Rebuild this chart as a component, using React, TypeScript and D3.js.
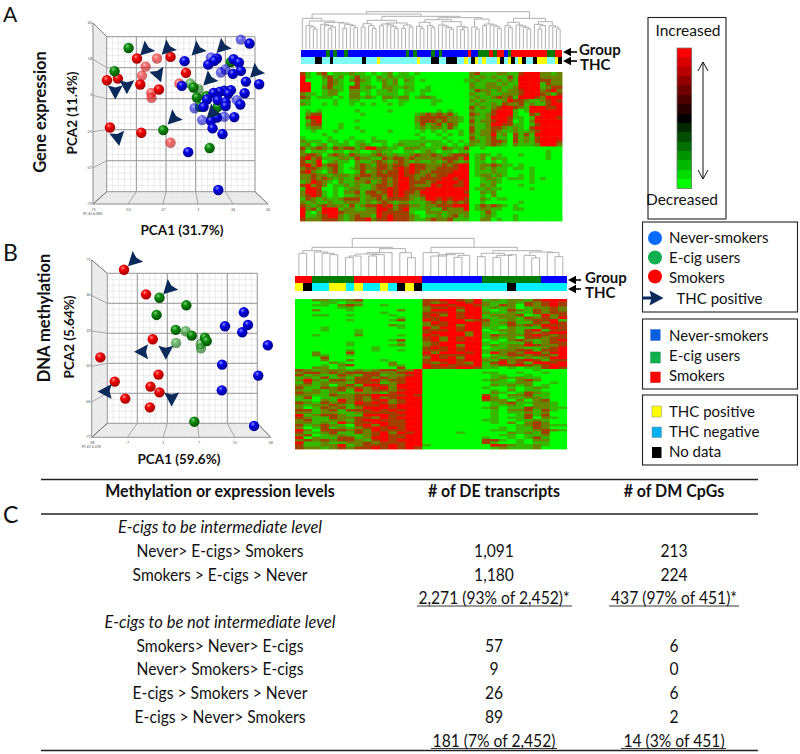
import React from "react";
import * as d3 from "d3";

const FONT = "Lato, Carlito, sans-serif";
const NAVY = "#0b2a5c";

// ---------- PCA values: [PCA1, PCA2, faded?]
const pcaARed = [[-43.6,18.4],[-29.3,18.4,1],[-19.6,19.4],[-37.4,13.5,1],[-40,8,1],[-65,5.2],[-57.2,6.2],[-41.2,2.6],[-27.9,-0.4],[-33.4,-2.5,1],[-33.2,-5.5,1],[-8.6,9.7],[-13.4,3.2,1],[-62.9,-23.5],[-40.5,-26.7],[-19.6,-32.8,1]];
const pcaAGreen = [[-49.6,24.8],[-59.6,10.7],[23.5,16.3],[-5.5,3.2,1],[0.4,-0.2,1],[-3.2,0.8],[-0.8,-5.3],[5.9,-4.5],[1.6,-11],[14,-11],[-24.8,-25.1],[8.3,-36]];
const pcaABlue = [[30.6,29.9,1],[36.8,27.5],[-9.6,16.8],[9.2,19,1],[13.5,18.4],[11.6,17],[7.3,14.7],[25.4,18],[29.2,16],[30.6,10.9],[24.9,9.1],[19.5,11.7,1],[16.4,9.9,1],[34.2,4.4],[43.7,2.8],[-11.5,1.8],[33.3,-2.7],[23.5,-0.8],[18.7,-1.2],[15.4,-1.9],[11.1,-2.5],[21.6,-2.9],[6.4,-6.5],[14,-6.9],[19.7,-8.1],[4,-11],[27.8,-6.9,1],[30.2,-9.5],[19.7,-10.5],[-2.4,-11.8,1],[13.5,-17.4],[18.7,-17,1],[25.9,-17.2],[3,-19,1],[9.2,-19.4],[10.4,-24],[17.5,-27.5],[-7,-38.5],[14.5,-61.5]];
const pcaAThc = [[-37.6,23.4,135],[-22.2,24,135],[-0.8,23.4,135],[17,25,135],[-28.2,8.2,70],[-59.1,-1.9,90],[-50.8,1.2,90],[7.5,5.2,135],[40.9,9.9,135],[9.9,-15,135],[-17.9,-18.4,135],[-57.2,-30.2,80]];

const pcaBRed = [[-17.9,63.2],[-11,43.5],[-8.9,7.5],[-25.3,-7],[-7.1,-20.8],[-20.8,-26.4],[-9.6,-30.4],[-6.8,-35],[-17.5,-40],[-9.8,-47]];
const pcaBGreen = [[-6.8,40.8],[1.6,34.7],[-7.7,27],[1.4,13.9,1],[-1.7,15],[3.3,10.4],[-1.6,4.5,1],[6.1,3.7,1],[6.2,0.3,1],[7.4,8.8],[8,6.1],[4.1,-58.5]];
const pcaBBlue = [[19.6,29.1],[13.7,17.9],[20.9,19],[19.1,13.1],[27.1,2.7],[12.8,-12.8],[24.1,-21.6],[12.7,-33.4],[22.8,-61.9]];
const pcaBThc = [[-15,70.2,135],[-4,47.8,135],[-12.4,-2.4,180],[-4.8,-2.9,90],[-23.8,-34.4,180],[-3,-40.3,90]];

const aYTicks = ["40","18","-3","-25","-47","-70"];
const aXTicks = ["-75","-53","-27","-1","24","50"];
const bYTicks = ["71","46","22","-22","-46","-71"];
const bXTicks = ["-28","-7","1","7","15","28"];

// ---------- annotation bars, run lengths [colour key, samples]
const groupA: [string, number][] = [["b",7],["g",1],["b",1],["g",1],["b",2],["g",1],["b",16],["g",1],["b",1],["g",1],["b",4],["g",1],["b",1],["g",1],["b",7],["r",1],["b",2],["g",3],["r",1],["g",1],["r",2],["b",1],["g",1],["r",10],["g",2],["r",2]];
const thcA: [string, number][] = [["n",4],["k",2],["n",2],["k",1],["n",8],["k",1],["n",3],["y",1],["n",10],["y",1],["n",3],["k",2],["n",2],["k",3],["n",2],["y",1],["n",1],["k",1],["y",1],["n",1],["y",1],["n",3],["y",1],["k",1],["n",1],["y",1],["k",1],["n",1],["y",1],["k",1],["n",2],["k",1],["y",3],["n",2],["y",1],["k",1]];
const groupB: [string, number][] = [["r",2],["g",5],["r",8],["b",7],["g",7],["b",3]];
const thcB: [string, number][] = [["y",1],["k",1],["n",2],["y",2],["n",1],["y",1],["n",2],["y",1],["n",1],["k",1],["y",1],["k",1],["n",10],["k",1],["n",6]];

// ---------- heat maps, expression level 0 (green) .. 4 (red)
const heatA = [
"310230111211010120110100000000023111221134442212",
"410023120131102121111000000000021212113144442222",
"400013210232101212021010000000112111212144443322",
"440013210031100212011000000000021122121144441322",
"440023110331210221121001000000021122211244441233",
"440012210221101121011011000000013221212234442342",
"211012200220101111010010000000021121122234443213",
"320111010221210221220122100000012112323144432444",
"110000100110000100110000110000021211124332112343",
"210010100101010010100000100000012112132231211344",
"000000000000000000000000000000031212344321444334",
"010100000010000010000000010100021113444101444444",
"023300000001000000000123232310032123444100324444",
"034400000000000000000233333221021124443110144443",
"013400000010000000000233323221031223443010244444",
"023300010000000000000131231320021124433110134444",
"012200010010000000000121221310031123321210344444",
"001000100001000010000010101001031223211211234444",
"000010000000000000000100010101021224120313144444",
"100001000100010000000010001000031123110312134444",
"211101101011011100111111110101022123320312134443",
"120120111012100101211120111010121123210211124442",
"312321323312442211022211113211300100000000000000",
"201110110110012110011012101101100000000000000100",
"233202321321123212112322321233301210100010000100",
"342311122132211323323222223332401202110000000100",
"312401211021123212321211212321201101010000000000",
"342423310023213323324332223234401223211010000000",
"233212310123223323434332233334401212110110100000",
"342102310013123233434322333344401112110000100000",
"223221222123323333433223233444401221210010100000",
"223232121132222323443233334434400122101110101000",
"124321021122312323443332344443400112100000100000",
"342320112121123323443222434433400212000010000000",
"144300101221123343443334444444401121100000100000",
"244310102231332343433244444444300212000000000000",
"234310101121233243432234444444400102000000000000",
"132121123331223233332124434344300210110000000000",
"212112112221212321221112323232300100000010000000",
"321232221312334342332212233344401323210100000000",
"423144412211224432341112113222401221100110000000",
"410244432222224333331002221222200131000000000000",
"411234421232214343332101121231200121000100000000",
"322233321233423343332112322311100220100100000000",
];
const heatB = [
"00221123000000033443241212213444","00011011000000032344342112132343","00110232001000034434432132032343","00000110000000023343441212012232",
"00200010000020024442441013213232","00000000001000033343442112113233","00110010000100034243441222301423","00000000000010033443441122132324",
"00000010000130043444233112123341","00000000000000024344442123113243","00000000000210023342442113232433","00010000000010042443441102111343",
"00010001000000033343440122134133","00000001000000034444241012132344","00100002000010043444241322234323","00000000000000034243441212033233",
"00000000000130034243440102321234","00000010000010023444441011131233","00000010000120023442441212243223","00000000010000034343440112211234",
"00000010010010033343441122331334","00200030000000042444341423244244","00210010000000034333440123323324","00030000000000024342441212121244",
"00020020001000034443442132343133","00002100000200032343241342314434","00010230000210043433341233432344","00220100000030043334431101011343",
"32122212123322400000000000001000","23323233332234400000001100100100","31211321331223400000000110010000","12131213323234400000000121211000",
"24213323342334400000001210232000","13122213331234400000000111220010","22120231443244400000000212120100","31132323234244400000001001012100",
"21212314233234400000000102011000","32212112221344400000000210132100","22113223344334300000003102231100","13011223242344400000004201122100",
"11021423234234400000003220202300","32132324343234400000000123112210","21223213334344400000000112102210","20132312444344400000001201132211",
"33123133343434400000000102231310","22122112333344400000000101121200","41233211444334400000000100131300","32113223324344400000000101130210",
"23112213443334400000001100112100","22121423344334400000000102023200","31232103424334400000000000123211","20131212343434400000000010113200",
"42033323243334400000000110112321","31123113234243400001000002121300","23012211234334400000000011011200","40211331244334400000001001013100",
"23232332134344400000003310102200","41121122323334400000003100101100","31122412333434410000000432112100","32212323343434300000000121112000",
];
const levelColors = ["#00ff00","#35b800","#6a8200","#a33c00","#ff0000"];

// ---------- colour key
const keyLevels = [1,0.86,0.72,0.58,0.44,0.3,0.16,0,-0.16,-0.3,-0.44,-0.58,-0.72,-0.86,-1];

// ---------- dendrograms: [merge height, left, right], null = one sample
type T = null | [number, T, T];
const L: T = null;
const c3a: T = [66,L,[60,L,L]];
const c3b: T = [70,L,[64,L,L]];
const c4a: T = [70,L,[66,L,[60,L,L]]];
const c4b: T = [72,[62,L,L],[66,L,L]];
const c4c: T = [68,L,[64,[58,L,L],L]];
const c4d: T = [74,L,[70,[60,L,L],L]];
const c5a: T = [74,L,[70,L,[66,[60,L,L],L]]];
const c5b: T = [76,[66,L,L],[70,L,[62,L,L]]];
const c5c: T = [72,L,[69,L,[65,L,[60,L,L]]]];
const c6a: T = [78,L,[74,[62,L,L],[70,L,[64,L,L]]]];
const c6b: T = [75,[70,L,L],[72,L,[68,L,[62,L,L]]]];
const c6c: T = [80,[68,L,[62,L,L]],[70,L,[64,L,L]]];
const treeA: T = [112,
  [105,
    [92,L,[84,c4a,[80,c5a,c6a]]],
    [98,[86,c5b,[78,c6b,c4b]],[94,[88,c6c,[82,c5c,c4c]],[90,c3a,c6b]]]],
  [92,[80,c3b,c5c],[82,c4d,c4a]]];
const treeB: T = [113,
  [86,
    [76,[68,L,L],[72,L,[68,L,[64,L,L]]]],
    [82,[70,[66,[60,[56,L,L],L],[64,[60,L,L],L]],L],[70,L,[55,L,L]]]],
  [86,
    [70,L,[60,L,[64,L,[68,L,[62,[56,L,L],L]]]]],
    [76,[68,[58,L,L],[62,[56,L,L],[64,L,L]]],[72,[62,L,[54,L,L]],[70,L,[58,L,L]]]]]];

// ---------- text
const tableHead = ["Methylation or expression levels","# of DE transcripts","# of DM CpGs"];
const tableRows: [string,string,string,number?][] = [
  ["E-cigs to be intermediate level","","",1],
  ["Never> E-cigs> Smokers","1,091","213"],
  ["Smokers > E-cigs > Never","1,180","224"],
  ["","2,271 (93% of 2,452)*","437 (97% of 451)*"],
  ["E-cigs to be not intermediate level","","",1],
  ["Smokers> Never> E-cigs","57","6"],
  ["Never> Smokers> E-cigs","9","0"],
  ["E-cigs > Smokers > Never","26","6"],
  ["E-cigs > Never> Smokers","89","2"],
  ["","181 (7% of 2,452)","14 (3% of 451)"],
];
const rowBaselines = [533,557,581,604,628,652,675,699,723,747];
const underlines: [number,number,number][] = [[417,572,606],[609,739,606],[431,557,748.5],[621,726,748.5]];

const barColors: Record<string,string> = { b:"#0000ff", g:"#007c00", r:"#ff0000", y:"#ffff00", k:"#000000" };
const ARROW = "M7.5 0L-6.5 -7.5L-4.5 0L-6.5 7.5Z";

function Pca({ front, back, red, green, blue, thc, xDomain, yDomain, xTicks, yTicks, pcLabel }: any) {
  const x = d3.scaleLinear().domain(xDomain).range([front[0], front[1]]);
  const y = d3.scaleLinear().domain(yDomain).range([front[3], front[2]]);
  const P = (u: number, v: number, d: number): [number, number] => {
    const fx = front[0] + u * (front[1] - front[0]), bx = back[0] + u * (back[1] - back[0]);
    const fy = front[3] + v * (front[2] - front[3]), by = back[3] + v * (back[2] - back[3]);
    return [fx + d * (bx - fx), fy + d * (by - fy)];
  };
  const seg = (a: [number, number], b: [number, number], key: string, c: string, w = 0.7) => (
    <line key={key} x1={a[0]} y1={a[1]} x2={b[0]} y2={b[1]} stroke={c} strokeWidth={w} />
  );
  const minor = d3.range(0, 26).map((i) => i / 25);
  const major = d3.range(0, 6).map((i) => i / 5);
  const lines: any[] = [];
  minor.forEach((t, i) => {
    lines.push(seg(P(t,0,1),P(t,1,1),"mv"+i,"#e2e2e2"));
    lines.push(seg(P(0,t,1),P(1,t,1),"mh"+i,"#e2e2e2"));
    lines.push(seg(P(0,t,0),P(0,t,1),"ml"+i,"#e8e8e8"));
    lines.push(seg(P(t,0,0),P(t,0,1),"mf"+i,"#e8e8e8"));
    lines.push(seg(P(0,0,t),P(1,0,t),"mg"+i,"#e8e8e8"));
    lines.push(seg(P(0,0,t),P(0,1,t),"mw"+i,"#e8e8e8"));
  });
  major.forEach((t, i) => {
    lines.push(seg(P(t,0,1),P(t,1,1),"Mv"+i,"#999",1));
    lines.push(seg(P(0,t,1),P(1,t,1),"Mh"+i,"#999",1));
    lines.push(seg(P(0,t,0),P(0,t,1),"Ml"+i,"#a0a0a0",0.9));
    lines.push(seg(P(t,0,0),P(t,0,1),"Mf"+i,"#a0a0a0",0.9));
  });
  [0,1].forEach((v) => lines.push(seg(P(0,v,0),P(0,v,1),"e"+v,"#777",0.8)));
  lines.push(seg(P(1,0,0),P(1,0,1),"e2","#777",0.8));
  lines.push(seg(P(0,0,0),P(0,1,0),"e3","#777",0.8));
  lines.push(seg(P(0,0,0),P(1,0,0),"e4","#777",0.8));
  const ball = (pts: any[], grad: string) =>
    pts.map((p, i) => (
      <circle key={grad + i} cx={x(p[0])} cy={y(p[1])} r={5.2} fill={`url(#${grad})`} opacity={p[2] ? 0.58 : 1} />
    ));
  return (
    <g>
      <g>{lines}</g>
      {yTicks.map((t: string, i: number) => (
        <text key={t + i} x={front[0] - 1} y={front[2] + (i * (front[3] - front[2])) / 5 + 1} textAnchor="end" fontSize={3.6} fill="#555" fontFamily={FONT}>{t}</text>
      ))}
      {xTicks.map((t: string, i: number) => (
        <text key={t + i} x={front[0] + (i * (front[1] - front[0])) / 5} y={front[3] + 7} textAnchor="middle" fontSize={3.6} fill="#555" fontFamily={FONT}>{t}</text>
      ))}
      <text x={front[0] - 10} y={front[3] + 11} fontSize={3.4} fill="#555" fontFamily={FONT}>{pcLabel}</text>
      {ball(red, "sphR")}
      {ball(green, "sphG")}
      {ball(blue, "sphB")}
      {thc.map((p: number[], i: number) => (
        <path key={i} d={ARROW} fill={NAVY} transform={`translate(${x(p[0])},${y(p[1])}) rotate(${p[2]})`} />
      ))}
    </g>
  );
}

function Bar({ runs, x0, x1, y0, y1 }: any) {
  const total = d3.sum(runs, (r: any) => r[1]) as number;
  const x = d3.scaleLinear().domain([0, total]).range([x0, x1]);
  let acc = 0;
  return (
    <g shapeRendering="crispEdges">
      {runs.map((r: any, i: number) => {
        const a = acc;
        acc += r[1];
        return <rect key={i} x={x(a)} width={x(acc) - x(a)} y={y0} height={y1 - y0} fill={r[0] === "n" ? (x0 < 296 ? "#00f0ff" : "#7ffcff") : barColors[r[0]]} />;
      })}
    </g>
  );
}

function Heat({ rows, x0, x1, y0, y1 }: any) {
  const nCol = rows[0].length;
  const x = d3.scaleBand<number>().domain(d3.range(nCol)).range([x0, x1]);
  const y = d3.scaleBand<number>().domain(d3.range(rows.length)).range([y0, y1]);
  const c = d3.scaleOrdinal<number, string>().domain(d3.range(5)).range(levelColors);
  return (
    <g filter="url(#soft)">
      <rect x={x0} y={y0} width={x1 - x0} height={y1 - y0} fill="#00ff00" />
      {rows.map((r: string, j: number) =>
        r.split("").map((v, i) => (
          <rect key={j + "-" + i} x={x(i)} y={y(j)} width={x.bandwidth() + 0.4} height={y.bandwidth() + 0.4} fill={c(+v)} />
        ))
      )}
    </g>
  );
}

function Dendro({ tree, x0, x1, base, px }: any) {
  const n = (function count(t: T): number { return t === null ? 1 : count(t[1]) + count(t[2]); })(tree);
  const x = d3.scaleLinear().domain([0, n]).range([x0, x1]);
  const y = d3.scaleLinear().domain([0, 120]).range([base, base - px]);
  let leaf = 0;
  const p = d3.path();
  const walk = (t: T): { cx: number; h: number } => {
    if (t === null) return { cx: x(leaf++ + 0.5), h: 0 };
    const a = walk(t[1]);
    const b = walk(t[2]);
    p.moveTo(a.cx, y(a.h));
    p.lineTo(a.cx, y(t[0]));
    p.lineTo(b.cx, y(t[0]));
    p.lineTo(b.cx, y(b.h));
    return { cx: (a.cx + b.cx) / 2, h: t[0] };
  };
  walk(tree);
  return <path d={p.toString()} fill="none" stroke="#a8a8a8" strokeWidth={0.9} />;
}

function Left({ x0, x1, y }: any) {
  return (
    <g stroke="#000" fill="#000">
      <line x1={x0} y1={y} x2={x1 + 4} y2={y} strokeWidth={1.6} />
      <path d={`M${x1} ${y}L${x1 + 8} ${y - 4.2}L${x1 + 8} ${y + 4.2}Z`} stroke="none" />
    </g>
  );
}

const T_ = (p: any) => <text fontFamily={FONT} fill="#111" {...p} />;
const Cond = ({ x, y, sx, ...p }: any) => (
  <T_ transform={`translate(${x},${y}) scale(${sx},1)`} textAnchor="middle" fontSize={17} {...p} />
);

export default function App() {
  const key = d3.scaleBand<number>().domain(d3.range(keyLevels.length)).range([48, 188.5]);
  const keyColor = (v: number) => (v >= 0 ? d3.rgb(255 * v, 0, 0) : d3.rgb(0, -255 * v, 0)).toString();
  return (
    <svg width={800} height={754} style={{ position: "absolute", left: 0, top: 0, display: "block" }}>
      <defs>
        <radialGradient id="sphR" cx="0.38" cy="0.32" r="0.7"><stop offset="0" stopColor="#ff8a8a" /><stop offset="0.35" stopColor="#f00000" /><stop offset="1" stopColor="#a00000" /></radialGradient>
        <radialGradient id="sphG" cx="0.38" cy="0.32" r="0.7"><stop offset="0" stopColor="#7fd07f" /><stop offset="0.35" stopColor="#0a8a0a" /><stop offset="1" stopColor="#034f03" /></radialGradient>
        <radialGradient id="sphB" cx="0.38" cy="0.32" r="0.7"><stop offset="0" stopColor="#8a8aff" /><stop offset="0.35" stopColor="#0000e6" /><stop offset="1" stopColor="#00008a" /></radialGradient>
        <filter id="soft" x="-2%" y="-2%" width="104%" height="104%"><feGaussianBlur stdDeviation="0.35" /></filter>
      </defs>
      <rect width={800} height={754} fill="#fff" />

      {/* panel letters */}
      <T_ x={3} y={22} fontSize={21}>A</T_>
      <T_ x={3} y={261} fontSize={23}>B</T_>
      <T_ x={3} y={523} fontSize={23}>C</T_>

      {/* PCA plots */}
      <Pca front={[93,268,23,204]} back={[106.7,255,36.7,191.7]} red={pcaARed} green={pcaAGreen} blue={pcaABlue} thc={pcaAThc}
        xDomain={[-75,50]} yDomain={[-70,40]} xTicks={aXTicks} yTicks={aYTicks} pcLabel="PC #3 6.08%" />
      <Pca front={[91.7,270.7,260,437.3]} back={[107.3,257.3,273.3,423.3]} red={pcaBRed} green={pcaBGreen} blue={pcaBBlue} thc={pcaBThc}
        xDomain={[-28,28]} yDomain={[-71,71]} xTicks={bXTicks} yTicks={bYTicks} pcLabel="PC #3 4.33%" />

      <T_ transform="translate(46,112) rotate(-90)" textAnchor="middle" fontSize={16.5} fontWeight={700}>Gene expression</T_>
      <T_ transform="translate(77,113) rotate(-90)" textAnchor="middle" fontSize={13.5} fontWeight={700}>PCA2 (11.4%)</T_>
      <T_ x={182} y={235} textAnchor="middle" fontSize={13.5} fontWeight={700}>PCA1 (31.7%)</T_>
      <T_ transform="translate(50,318) rotate(-90)" textAnchor="middle" fontSize={16.5} fontWeight={700}>DNA methylation</T_>
      <T_ transform="translate(74,337) rotate(-90)" textAnchor="middle" fontSize={13.5} fontWeight={700}>PCA2 (5.64%)</T_>
      <T_ x={179} y={464} textAnchor="middle" fontSize={13.5} fontWeight={700}>PCA1 (59.6%)</T_>

      {/* heat map A */}
      <Dendro tree={treeA} x0={300.5} x1={562} base={49} px={40} />
      <Bar runs={groupA} x0={300.5} x1={562} y0={49.5} y1={57} />
      <Bar runs={thcA} x0={300.5} x1={562} y0={57} y1={64} />
      <Heat rows={heatA} x0={300} x1={562} y0={72} y1={221} />
      <Left x0={577} x1={563} y={52} />
      <Left x0={577} x1={563} y={61} />
      <T_ x={579} y={55} fontSize={15} fontWeight={700}>Group</T_>
      <T_ x={580} y={70} fontSize={15} fontWeight={700}>THC</T_>

      {/* heat map B */}
      <Dendro tree={treeB} x0={295} x1={566.7} base={276} px={40} />
      <Bar runs={groupB} x0={295} x1={566.7} y0={276} y1={283.3} />
      <Bar runs={thcB} x0={295} x1={566.7} y0={283.3} y1={291.3} />
      <Heat rows={heatB} x0={295} x1={566.7} y0={299} y1={449} />
      <Left x0={581} x1={568} y={280} />
      <Left x0={581} x1={568} y={289} />
      <T_ x={585} y={283} fontSize={15} fontWeight={700}>Group</T_>
      <T_ x={585} y={298} fontSize={15} fontWeight={700}>THC</T_>

      {/* colour key */}
      <rect x={648} y={17.5} width={78} height={201.5} fill="none" stroke="#222" strokeWidth={1.1} />
      <T_ x={688} y={36} textAnchor="middle" fontSize={15.5}>Increased</T_>
      <T_ x={646} y={205} fontSize={15.5}>Decreased</T_>
      <g shapeRendering="crispEdges">
        {keyLevels.map((v, i) => (
          <rect key={i} x={677} y={key(i)} width={14.5} height={key.bandwidth() + 0.5} fill={keyColor(v)} />
        ))}
      </g>
      <rect x={677} y={48} width={14.5} height={140.5} fill="none" stroke="#777" strokeWidth={0.8} />
      <g stroke="#111" strokeWidth={1} fill="none">
        <line x1={703} y1={62} x2={703} y2={179} />
        <path d="M698 71L703 62L708 71" />
        <path d="M698 170L703 179L708 170" />
      </g>

      {/* legends */}
      <g fill="none" stroke="#222" strokeWidth={1.1}>
        <rect x={642.5} y={222} width={155} height={90} />
        <rect x={642.5} y={319} width={155} height={70} />
        <rect x={642.5} y={395} width={155} height={70} />
      </g>
      <circle cx={655} cy={238} r={7} fill="#0a6cff" />
      <circle cx={655} cy={257.5} r={7} fill="#0fb050" />
      <circle cx={655} cy={276.5} r={7} fill="#ff0000" />
      <T_ x={669} y={243} fontSize={15}>Never-smokers</T_>
      <T_ x={669} y={263} fontSize={15}>E-cig users</T_>
      <T_ x={669} y={283} fontSize={15}>Smokers</T_>
      <line x1={642} y1={298} x2={656} y2={298} stroke={NAVY} strokeWidth={3} />
      <path d={ARROW} fill={NAVY} transform="translate(656,298)" />
      <T_ x={676.5} y={304} fontSize={15}>THC positive</T_>

      <rect x={650.7} y={329.5} width={9.5} height={11} fill="#0a5fe0" stroke="#3a6fd0" strokeWidth={0.5} />
      <rect x={650.7} y={352} width={9.5} height={11} fill="#0fb050" stroke="#0a8a3a" strokeWidth={0.5} />
      <rect x={650.7} y={372} width={9.5} height={10.5} fill="#ff0000" stroke="#c00" strokeWidth={0.5} />
      <T_ x={669} y={341} fontSize={15}>Never-smokers</T_>
      <T_ x={669} y={361} fontSize={15}>E-cig users</T_>
      <T_ x={669} y={381} fontSize={15}>Smokers</T_>

      <rect x={652} y={406} width={9.5} height={11} fill="#ffff00" stroke="#888" strokeWidth={0.5} />
      <rect x={652} y={427} width={9.5} height={10.5} fill="#00b0f0" stroke="#888" strokeWidth={0.5} />
      <rect x={652} y={447} width={9.5} height={11} fill="#000" />
      <T_ x={669} y={417} fontSize={15}>THC positive</T_>
      <T_ x={669} y={437} fontSize={15}>THC negative</T_>
      <T_ x={669} y={457} fontSize={15}>No data</T_>

      {/* table */}
      <line x1={41} x2={758} y1={479.5} y2={479.5} stroke="#222" strokeWidth={1.4} />
      <line x1={41} x2={758} y1={514} y2={514} stroke="#222" strokeWidth={1.4} />
      <line x1={41} x2={758} y1={750.5} y2={750.5} stroke="#222" strokeWidth={1.4} />
      <Cond x={220} y={497} sx={0.94} fontWeight={700}>{tableHead[0]}</Cond>
      <Cond x={494} y={497} sx={0.94} fontWeight={700}>{tableHead[1]}</Cond>
      <Cond x={674} y={497} sx={0.94} fontWeight={700}>{tableHead[2]}</Cond>
      {tableRows.map((r, i) => (
        <g key={i}>
          {r[0] ? <Cond x={220} y={rowBaselines[i]} sx={r[3] ? 0.97 : 0.92} fontStyle={r[3] ? "italic" : "normal"}>{r[0]}</Cond> : null}
          {r[1] ? <Cond x={494} y={rowBaselines[i]} sx={0.92}>{r[1]}</Cond> : null}
          {r[2] ? <Cond x={674} y={rowBaselines[i]} sx={0.92}>{r[2]}</Cond> : null}
        </g>
      ))}
      {underlines.map((u, i) => (
        <line key={i} x1={u[0]} x2={u[1]} y1={u[2]} y2={u[2]} stroke="#222" strokeWidth={0.9} />
      ))}
    </svg>
  );
}
